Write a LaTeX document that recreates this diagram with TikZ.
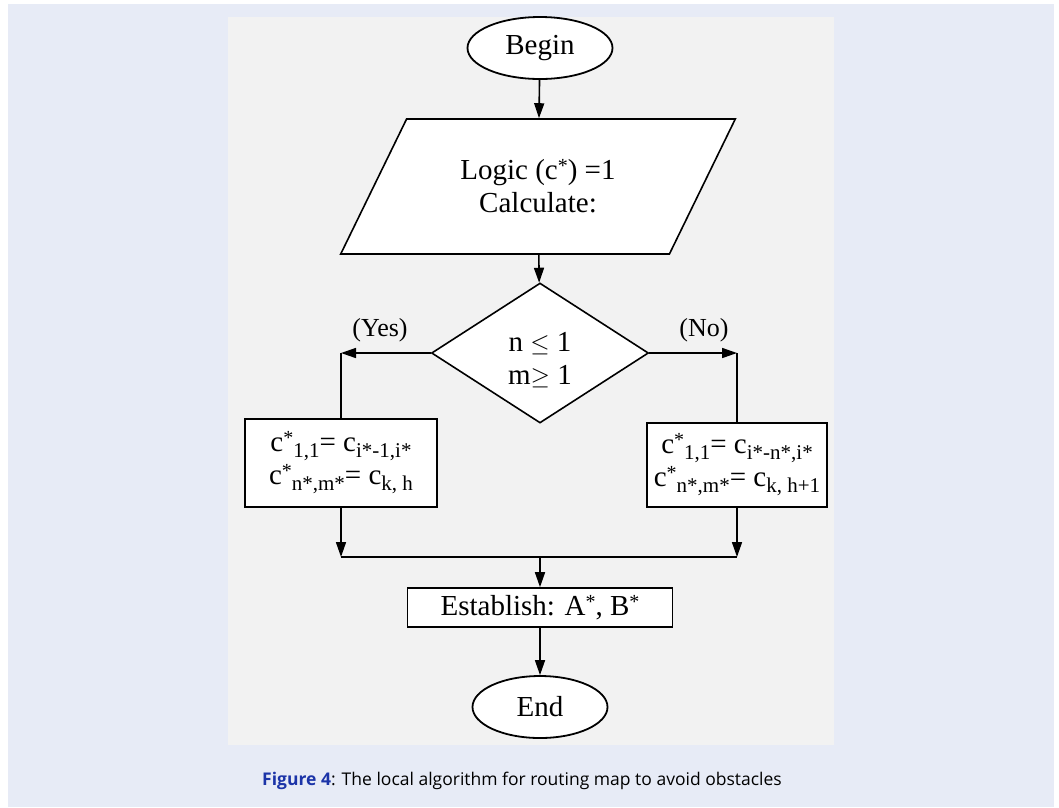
\documentclass[tikz,border=0pt]{standalone}
\usepackage{fontspec}
\setmainfont{Liberation Serif}
\newfontfamily\capfont{Open Sans}
\usetikzlibrary{shapes.geometric,arrows.meta}
\definecolor{pagebg}{RGB}{231,235,246}
\definecolor{panelbg}{RGB}{242,242,242}
\definecolor{figblue}{RGB}{28,52,168}
\newcommand{\hi}[1]{\raisebox{7pt}{\fontsize{20}{20}\selectfont #1}}
\newcommand{\lo}[1]{\raisebox{-0.45ex}{\fontsize{21}{21}\selectfont #1}}

\begin{document}
\begin{tikzpicture}[x=1pt,y=-1pt,
    >={Triangle[length=15pt,width=10pt]},
    every node/.style={font=\fontsize{29}{33}\selectfont},
    flow/.style={line width=1.6pt},
    term/.style={ellipse,draw,line width=1.8pt,fill=white,inner sep=0pt},
    io/.style={trapezium,trapezium left angle=54,trapezium right angle=126,trapezium stretches=true,
      draw,line width=1.6pt,fill=white,minimum width=395pt,minimum height=135pt,inner sep=0pt,align=center},
    test/.style={diamond,draw,line width=1.6pt,fill=white,minimum width=217pt,minimum height=140pt,
      aspect=1.55,inner sep=0pt,align=center},
    proc/.style={rectangle,draw,line width=1.6pt,fill=white,inner sep=0pt,align=center}]
  \useasboundingbox (0,0) rectangle (1059,807);
  \fill [white] (0,0) rectangle (1059,807);
  \fill [pagebg] (8,4) rectangle (1054,807);
  \fill [panelbg] (228,17) rectangle (834,745);

  \node [term,minimum width=145pt,minimum height=62pt] (begin) at (540,48) {Begin};
  \node [io] (calc) at (538,186.5) {Logic (c\hi{*}) =1\\Calculate:};
  \node [test] (cond) at (540,353) {\rule{0pt}{34pt}n $\leq$ 1\\m$\geq$ 1};
  \node [proc,minimum width=192pt,minimum height=88pt] (yesbox) at (341,463)
    {c\hi{*}\lo{1,1}= c\lo{i*-1,i*}\\c\hi{*}\lo{n*,m*}= c\lo{k, h}};
  \node [proc,minimum width=180pt,minimum height=84pt] (nobox) at (737,465)
    {c\hi{*}\lo{1,1}= c\lo{i*-n*,i*}\\c\hi{*}\lo{n*,m*}= c\lo{k, h+1}};
  \node [proc,minimum width=265pt,minimum height=39pt] (est) at (540,607.5) {Establish: A\hi{*}, B\hi{*}};
  \node [term,minimum width=135pt,minimum height=62pt] (end) at (540,707) {End};

  \node [font=\fontsize{26}{30}\selectfont] (yes) at (380,330) {(Yes)};
  \node [font=\fontsize{26}{30}\selectfont] (no) at (704,330) {(No)};

  \coordinate (yc) at (341,353);
  \coordinate (nc) at (737,353);
  \coordinate (jl) at (341,557);
  \coordinate (jr) at (737,557);
  \coordinate (jm) at (540,557);

  \draw [flow,->] (begin) -- (calc);
  \draw [flow,->] (calc) -- (cond);
  \draw [flow,->] (cond.west) -- (yc);
  \draw [flow] (yc) -- (yesbox.north);
  \draw [flow,->] (cond.east) -- (nc);
  \draw [flow] (nc) -- (nobox.north);
  \draw [flow,->] (yesbox.south) -- (jl);
  \draw [flow,->] (nobox.south) -- (jr);
  \draw [flow] (jl) -- (jr);
  \draw [flow,->] (jm) -- (est);
  \draw [flow,->] (est) -- (end);

  \node [font=\capfont\fontsize{17.5}{20}\selectfont] (caption) at (522,781)
    {\textcolor{figblue}{\textbf{Figure 4}}: The local algorithm for routing map to avoid obstacles};
\end{tikzpicture}
\end{document}
